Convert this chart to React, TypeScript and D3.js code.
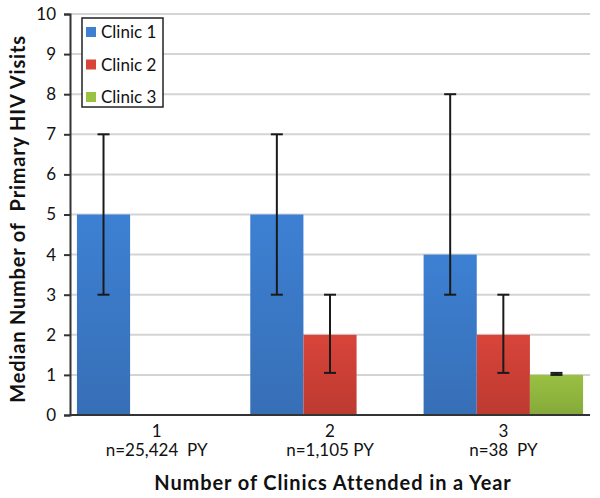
import React, { useEffect, useRef } from 'react'
import * as d3 from 'd3'

// chart data
const categories = ['1', '2', '3']
const sampleLabels = ['n=25,424  PY', 'n=1,105 PY', 'n=38  PY']
const seriesNames = ['Clinic 1', 'Clinic 2', 'Clinic 3']
const seriesColors = ['#3d80d3', '#d8443a', '#99c142']
const seriesDark = ['#376fb6', '#bd3a31', '#85a93a']

// median visits per category, null where no bar
const clinic1 = [5, 5, 4]
const clinic2 = [null, 2, 2]
const clinic3 = [null, null, 1]
// error bar lows and highs
const clinic1Low = [3, 3, 3]
const clinic1High = [7, 7, 8]
const clinic2Low = [null, 1.05, 1.05]
const clinic2High = [null, 3, 3]
const clinic3Low = [null, null, 1]
const clinic3High = [null, null, 1.05]

const yTicks = [0, 1, 2, 3, 4, 5, 6, 7, 8, 9, 10]

const FONT = 'Lato, "Open Sans", sans-serif'

function App() {
  const svgRef = useRef<SVGSVGElement>(null)

  useEffect(() => {
    const W = 600
    const H = 498
    const margin = { top: 14, right: 10, bottom: 83, left: 70 }
    const innerW = W - margin.left - margin.right
    const innerH = H - margin.top - margin.bottom

    const root = d3.select(svgRef.current)
    root.selectAll('*').remove()
    root.attr('width', W).attr('height', H)

    const defs = root.append('defs')
    seriesColors.forEach((c, i) => {
      const grad = defs.append('linearGradient')
        .attr('id', 'grad' + i)
        .attr('x1', 0).attr('y1', 0).attr('x2', 0).attr('y2', 1)
      grad.append('stop').attr('offset', '0%').attr('stop-color', c)
      grad.append('stop').attr('offset', '100%').attr('stop-color', seriesDark[i])
    })

    const svg = root.append('g')
      .attr('transform', `translate(${margin.left},${margin.top})`)

    const x0 = d3.scaleBand().domain(categories).range([0, innerW]).paddingInner(0.08).paddingOuter(0.04)
    const x1 = d3.scaleBand().domain(seriesNames).range([0, x0.bandwidth()])
    const y = d3.scaleLinear().domain([0, 10]).range([innerH, 0])

    // gridlines
    svg.append('g')
      .selectAll('line')
      .data(yTicks.filter(t => t > 0))
      .join('line')
      .attr('x1', 0)
      .attr('x2', innerW)
      .attr('y1', d => y(d))
      .attr('y2', d => y(d))
      .attr('stroke', '#d4d4d4')
      .attr('stroke-width', 2)

    // bars
    const values = [clinic1, clinic2, clinic3]
    const lows = [clinic1Low, clinic2Low, clinic3Low]
    const highs = [clinic1High, clinic2High, clinic3High]

    values.forEach((vals, s) => {
      vals.forEach((v, c) => {
        if (v == null) return
        const bx = x0(categories[c])! + x1(seriesNames[s])!
        svg.append('rect')
          .attr('x', bx)
          .attr('y', y(v))
          .attr('width', x1.bandwidth())
          .attr('height', innerH - y(v))
          .attr('fill', `url(#grad${s})`)
      })
    })

    // error bars
    values.forEach((vals, s) => {
      vals.forEach((v, c) => {
        if (v == null) return
        const lo = lows[s][c]
        const hi = highs[s][c]
        if (lo == null || hi == null) return
        const cx = x0(categories[c])! + x1(seriesNames[s])! + x1.bandwidth() / 2
        const g = svg.append('g').attr('stroke', '#1a1a1a').attr('stroke-width', 2)
        g.append('line').attr('x1', cx).attr('x2', cx).attr('y1', y(lo)).attr('y2', y(hi))
        g.append('line').attr('x1', cx - 6).attr('x2', cx + 6).attr('y1', y(lo)).attr('y2', y(lo))
        g.append('line').attr('x1', cx - 6).attr('x2', cx + 6).attr('y1', y(hi)).attr('y2', y(hi))
      })
    })

    // y axis
    const yAxis = d3.axisLeft(y).tickValues(yTicks).tickSize(6).tickPadding(8)
    const yg = svg.append('g').call(yAxis)
    yg.select('.domain').attr('stroke', '#333').attr('stroke-width', 2)
    yg.selectAll('.tick line').attr('stroke', '#333').attr('stroke-width', 2)
    yg.selectAll('.tick text')
      .attr('font-family', FONT)
      .attr('font-size', 17)
      .attr('fill', '#111')

    // x axis baseline
    svg.append('line')
      .attr('x1', 0).attr('x2', innerW)
      .attr('y1', innerH).attr('y2', innerH)
      .attr('stroke', '#333').attr('stroke-width', 2)

    // category labels
    categories.forEach((cat, i) => {
      const cx = x0(cat)! + x0.bandwidth() / 2
      svg.append('text')
        .attr('x', cx).attr('y', innerH + 22)
        .attr('text-anchor', 'middle')
        .attr('font-family', FONT).attr('font-size', 17).attr('fill', '#111')
        .text(cat)
      svg.append('text')
        .attr('x', cx).attr('y', innerH + 41)
        .attr('text-anchor', 'middle')
        .attr('font-family', FONT).attr('font-size', 17).attr('fill', '#111')
        .style('white-space', 'pre')
        .text(sampleLabels[i])
    })

    // x axis title
    root.append('text')
      .attr('x', 333).attr('y', 490)
      .attr('text-anchor', 'middle')
      .attr('font-family', FONT).attr('font-size', 20).attr('font-weight', 'bold').attr('fill', '#111')
      .attr('letter-spacing', 0.9)
      .text('Number of Clinics Attended in a Year')

    // y axis title
    root.append('text')
      .attr('transform', 'translate(25,219) rotate(-90)')
      .attr('text-anchor', 'middle')
      .attr('font-family', FONT).attr('font-size', 20).attr('font-weight', 'bold').attr('fill', '#111')
      .attr('letter-spacing', 0.8)
      .style('white-space', 'pre')
      .text('Median Number of  Primary HIV Visits')

    // legend
    const legend = root.append('g').attr('transform', 'translate(82,18)')
    legend.append('rect')
      .attr('width', 81).attr('height', 89)
      .attr('fill', '#fff').attr('stroke', '#222').attr('stroke-width', 1.5)
    seriesNames.forEach((name, i) => {
      const ly = 14 + i * 32.5
      legend.append('rect')
        .attr('x', 4).attr('y', ly - 5).attr('width', 10).attr('height', 10)
        .attr('fill', seriesColors[i])
      legend.append('text')
        .attr('x', 19).attr('y', ly + 6)
        .attr('font-family', FONT).attr('font-size', 17).attr('fill', '#111')
        .text(name)
    })
  }, [])

  return (
    <div>
      <svg ref={svgRef} style={{ display: 'block', position: 'absolute', left: 0, top: 0, background: '#fff' }}></svg>
    </div>
  )
}

export default App
